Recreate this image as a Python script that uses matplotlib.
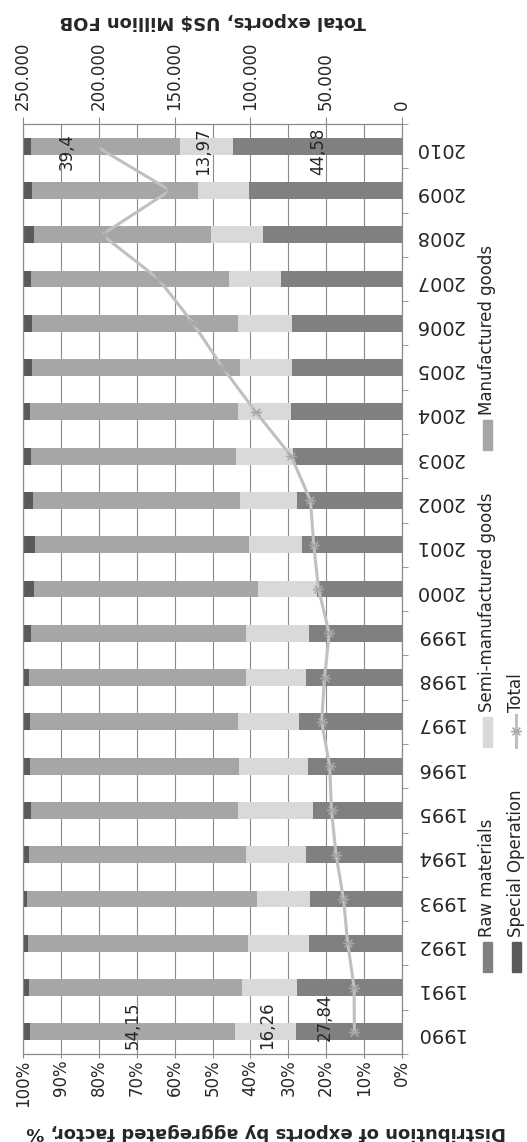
import numpy as np
import matplotlib.pyplot as plt
from matplotlib.patches import Rectangle
from matplotlib.lines import Line2D
from matplotlib.path import Path

# export shares by aggregated factor (%) and total exports (US$ million FOB)
years = list(range(1990, 2011))
raw = [27.84, 27.6, 24.5, 24.2, 25.3, 23.4, 24.8, 27.1, 25.2, 24.5, 22.3,
       26.3, 27.8, 28.8, 29.4, 29.1, 29.1, 32.0, 36.8, 40.4, 44.58]
semi = [16.26, 14.7, 16.1, 14.1, 15.9, 19.8, 18.1, 16.2, 16.0, 16.7, 15.8,
        14.1, 15.0, 15.0, 14.0, 13.6, 14.3, 13.6, 13.7, 13.3, 13.97]
manuf = [54.15, 56.1, 58.0, 60.7, 57.1, 54.8, 55.2, 54.9, 57.3, 56.8, 59.0,
         56.4, 54.6, 54.2, 54.8, 55.0, 54.3, 52.2, 46.7, 44.0, 39.4]
special = [1.75, 1.6, 1.4, 1.0, 1.7, 2.0, 1.9, 1.8, 1.5, 2.0, 2.9,
           3.2, 2.6, 2.0, 1.8, 2.3, 2.3, 2.2, 2.8, 2.3, 2.05]
total = [31400, 31600, 35800, 38600, 43500, 46500, 47700, 53000, 51100, 48000, 55100,
         58200, 60400, 73100, 96500, 118300, 137800, 160600, 197900, 153000, 201900]

series_names = ["Raw materials", "Semi-manufactured goods", "Manufactured goods", "Special Operation"]
colors = ["#808083", "#d9d9da", "#a6a6a8", "#5a5a5c"]
line_color = "#c0c0c0"
marker_color = "#a8a8a8"
grid_color = "#8a8a8a"
text_color = "#262626"

# labelled values: (year index, series, x position in %, y shift in categories)
labels = [(0, manuf, 71.0, 0.14), (0, semi, 35.7, 0.14), (0, raw, 20.3, 0.34),
          (20, manuf, 88.4, -0.12), (20, semi, 52.4, -0.12), (20, raw, 22.1, -0.12)]

W, H = 527, 1142
def fx(x):
    return x / W
def fy(y):
    return 1 - y / H

plt.rcParams['font.family'] = ['DejaVu Sans']
narrow = ['Liberation Sans Narrow', 'DejaVu Sans Condensed', 'DejaVu Sans']

# asterisk marker: x plus a horizontal bar
star = Path([(-1, 0), (1, 0), (-0.7, -0.7), (0.7, 0.7), (-0.7, 0.7), (0.7, -0.7)],
            [Path.MOVETO, Path.LINETO] * 3)

fig = plt.figure(figsize=(W / 100, H / 100), dpi=100)
ax = fig.add_axes([fx(23), fy(1054), fx(402) - fx(23), fy(124) - fy(1054)])

idx = np.arange(len(years))
left = np.zeros(len(years))
for vals, col in zip([raw, semi, manuf, special], colors):
    ax.barh(idx, vals, left=left, height=0.38, color=col, zorder=2)
    left += np.array(vals)

ax.set_xlim(100, 0)
ax.set_ylim(-0.5, len(years) - 0.5)
ax.set_xticks(np.arange(0, 101, 10))
ax.set_xticklabels([f"{v}%" for v in range(0, 101, 10)], rotation=90, va='top',
                   fontsize=12, color=text_color)
ax.tick_params(axis='x', direction='out', length=3, pad=1, color=grid_color)
ax.grid(axis='x', color=grid_color, linewidth=0.8, zorder=0)
ax.set_axisbelow(True)

ax.yaxis.tick_right()
ax.set_yticks(idx)
ax.set_yticklabels([str(y) for y in years], rotation=180, fontsize=14,
                   family=narrow, color=text_color)
ax.tick_params(axis='y', which='major', length=0, pad=9)
ax.set_yticks(np.arange(-0.5, len(years), 1), minor=True)
ax.tick_params(axis='y', which='minor', right=True, left=False, length=4,
               color=grid_color)
for s in ax.spines.values():
    s.set_color(grid_color)
    s.set_linewidth(0.8)

for i, vals, xpos, dy in labels:
    v = vals[i]
    ax.text(xpos, i + dy, str(v).replace('.', ','), rotation=90, ha='center',
            va='center', fontsize=12, color=text_color, zorder=5)

# total exports on the secondary axis
ax2 = ax.twiny()
ax2.plot(total, idx, color=line_color, linewidth=2.2, marker=star, markersize=8,
         markeredgecolor=marker_color, markeredgewidth=1.2, zorder=4)
ax2.set_xlim(250000, 0)
ticks2 = np.arange(0, 250001, 50000)
ax2.set_xticks(ticks2)
ax2.set_xticklabels([f"{int(v):,}".replace(',', '.') for v in ticks2], rotation=90,
                    va='bottom', fontsize=12, color=text_color)
ax2.tick_params(axis='x', direction='out', length=5, pad=5, color=grid_color)
for s in ax2.spines.values():
    s.set_color(grid_color)
    s.set_linewidth(0.8)

# axis titles
fig.text(fx(213), fy(21), "Total exports, US$ Million FOB", rotation=180,
         ha='center', va='center', fontsize=13, fontweight='bold',
         family=narrow, color=text_color)
fig.text(fx(266), fy(1132), "Distribution of exports by aggregated factor, %",
         rotation=180, ha='center', va='center', fontsize=13, fontweight='bold',
         family=narrow, color=text_color)

# legend, laid out in two columns
legend_items = [(487, 957, 0), (487, 732, 1), (487, 435, 2), (516, 957, 3)]
for x, y, k in legend_items:
    fig.add_artist(Rectangle((fx(x - 4.5), fy(y + 15)), 9 / W, 30 / H,
                             transform=fig.transFigure, color=colors[k]))
    fig.text(fx(x), fy(y - 20), series_names[k], rotation=90, ha='center',
             va='bottom', fontsize=12, color=text_color)
fig.add_artist(Line2D([fx(516), fx(516)], [fy(747), fy(715)], transform=fig.transFigure,
                      color=line_color, linewidth=2.2))
fig.add_artist(Line2D([fx(516)], [fy(731)], transform=fig.transFigure, marker=star,
                      markersize=8, markeredgecolor=marker_color, markeredgewidth=1.2,
                      linestyle='none'))
fig.text(fx(516), fy(712), "Total", rotation=90, ha='center', va='bottom',
         fontsize=12, color=text_color)

fig.savefig("out.png", dpi=100)
